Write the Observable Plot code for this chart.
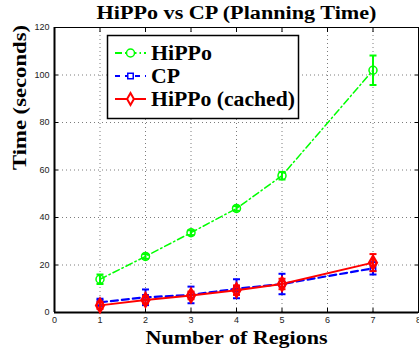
<!DOCTYPE html>
<html>
<head>
<meta charset="utf-8">
<script src="https://cdn.jsdelivr.net/npm/d3@7"></script>
<script src="https://cdn.jsdelivr.net/npm/@observablehq/plot@0.6"></script>
<style>
  html, body { margin: 0; padding: 0; background: white; overflow: hidden; }
  #wrap { position: relative; width: 419px; height: 355px; }
</style>
</head>
<body>
<div id="wrap"></div>
<script>
const title = "HiPPo vs CP (Planning Time)";
const xLabel = "Number of Regions";
const yLabel = "Time (seconds)";
const xTicks = [0, 1, 2, 3, 4, 5, 6, 7, 8];
const yTicks = [0, 20, 40, 60, 80, 100, 120];

const regions = [1, 2, 3, 4, 5, 7];
const hippo = [14, 23.6, 33.6, 43.8, 57.6, 102];
const hippoErr = [2, 1, 1, 1, 1.6, 6.2];
const cp = [4.3, 6.4, 7.4, 10, 12, 18.6];
const cpErr = [1.5, 3.3, 3.5, 4, 4.3, 2.6];
const cached = [3, 5.3, 7.2, 9.4, 12, 21];
const cachedErr = [1.5, 1.5, 1.6, 2, 2.2, 3.6];

const seriesNames = ["HiPPo", "CP", "HiPPo (cached)"];

const mk = (vals, errs) => regions.map((x, i) => ({x, y: vals[i], e: errs[i]}));
const dHippo = mk(hippo, hippoErr);
const dCp = mk(cp, cpErr);
const dCached = mk(cached, cachedErr);

const capSymbol = {draw(ctx) { ctx.moveTo(-3.5, 0); ctx.lineTo(3.5, 0); }};

function seriesMarks(data, color, dash, symbol, r, sw, lw) {
  return [
    Plot.line(data, {x: "x", y: "y", stroke: color, strokeWidth: lw, strokeDasharray: dash}),
    Plot.ruleX(data, {x: "x", y1: d => d.y - d.e, y2: d => d.y + d.e, stroke: color, strokeWidth: 2}),
    Plot.dot(data, {x: "x", y: d => d.y - d.e, symbol: capSymbol, stroke: color, strokeWidth: 2}),
    Plot.dot(data, {x: "x", y: d => d.y + d.e, symbol: capSymbol, stroke: color, strokeWidth: 2}),
    Plot.dot(data, {x: "x", y: "y", symbol, r, stroke: color, strokeWidth: sw, fill: "none"})
  ];
}

const serif = "'Liberation Serif', 'Times New Roman', serif";

const chart = Plot.plot({
  width: 419,
  height: 355,
  marginLeft: 54,
  marginRight: 1,
  marginTop: 27,
  marginBottom: 43,
  style: {fontFamily: "'Liberation Sans', Arial, sans-serif", fontSize: "9px", color: "#222", background: "white", overflow: "visible"},
  x: {domain: [0, 8]},
  y: {domain: [0, 120]},
  marks: [
    Plot.gridX(xTicks, {stroke: "#444", strokeOpacity: 0.7, strokeDasharray: "1,3"}),
    Plot.gridY(yTicks, {stroke: "#444", strokeOpacity: 0.7, strokeDasharray: "1,3"}),
    Plot.frame({stroke: "black", strokeWidth: 1}),
    Plot.ruleX([0], {stroke: "black", strokeWidth: 2}),
    Plot.ruleY([0], {stroke: "black", strokeWidth: 2}),
    Plot.axisX(xTicks, {tickSize: -4, tickPadding: 8, label: null, stroke: "black"}),
    Plot.axisX(xTicks, {anchor: "top", tickSize: -4, tickFormat: () => "", label: null, stroke: "black"}),
    Plot.axisY(yTicks, {tickSize: -4, tickPadding: 9, label: null, stroke: "black"}),
    Plot.axisY(yTicks, {anchor: "right", tickSize: -4, tickFormat: () => "", label: null, stroke: "black"}),
    ...seriesMarks(dHippo, "#00ff00", "7,3,1.5,3", "circle", 4, 1.5, 1.5),
    ...seriesMarks(dCp, "#0000ff", "7,4", "square", 3, 1.5, 2.2),
    ...seriesMarks(dCached, "#ff0000", null, "diamond", 4, 2.5, 2),
    Plot.text([title], {frameAnchor: "top", dy: -14, lineAnchor: "middle", fontFamily: serif, fontWeight: "bold", fontSize: 18, fill: "black"}),
    Plot.text([xLabel], {frameAnchor: "bottom", dy: 25, lineAnchor: "middle", fontFamily: serif, fontWeight: "bold", fontSize: 19, fill: "black"}),
    Plot.text([yLabel], {frameAnchor: "left", dx: -35, rotate: -90, lineAnchor: "middle", fontFamily: serif, fontWeight: "bold", fontSize: 19, fill: "black"})
  ]
});

// widen the bold serif texts to the reference's wider lettering
const widths = {[title]: 280, [xLabel]: 182, [yLabel]: 145};
d3.select(chart).selectAll("text").each(function () {
  const w = widths[this.textContent];
  if (w) d3.select(this).attr("textLength", w).attr("lengthAdjust", "spacingAndGlyphs");
});

const wrap = document.getElementById("wrap");
wrap.appendChild(chart);

// Legend overlay
const legendStyles = [
  {color: "#00ff00", dash: "7,3,1.5,3", symbol: d3.symbolCircle, size: 50, sw: 1.5, w: 61},
  {color: "#0000ff", dash: "5,5", symbol: d3.symbolSquare, size: 30, sw: 1.5, w: 29},
  {color: "#ff0000", dash: null, symbol: d3.symbolDiamond, size: 40, sw: 2, w: 144}
];
const lg = d3.create("svg")
  .attr("width", 419).attr("height", 355)
  .style("position", "absolute").style("left", "0px").style("top", "0px");
lg.append("rect").attr("x", 107.5).attr("y", 35.5).attr("width", 191).attr("height", 83)
  .attr("fill", "white").attr("stroke", "black").attr("stroke-width", 1.5);
const rowY = [53, 76, 99];
seriesNames.forEach((name, i) => {
  const s = legendStyles[i];
  const g = lg.append("g");
  g.append("line").attr("x1", 115).attr("x2", 146).attr("y1", rowY[i]).attr("y2", rowY[i])
    .attr("stroke", s.color).attr("stroke-width", 2).attr("stroke-dasharray", s.dash);
  g.append("path").attr("d", d3.symbol(s.symbol, s.size)())
    .attr("transform", `translate(130.5,${rowY[i]})`)
    .attr("fill", "white").attr("stroke", s.color).attr("stroke-width", s.sw);
  g.append("text").attr("x", 151).attr("y", rowY[i]).attr("dy", "0.35em")
    .attr("font-family", serif).attr("font-weight", "bold").attr("font-size", 20)
    .attr("textLength", s.w).attr("lengthAdjust", "spacingAndGlyphs")
    .attr("fill", "black").text(name);
});
wrap.appendChild(lg.node());
</script>
</body>
</html>
